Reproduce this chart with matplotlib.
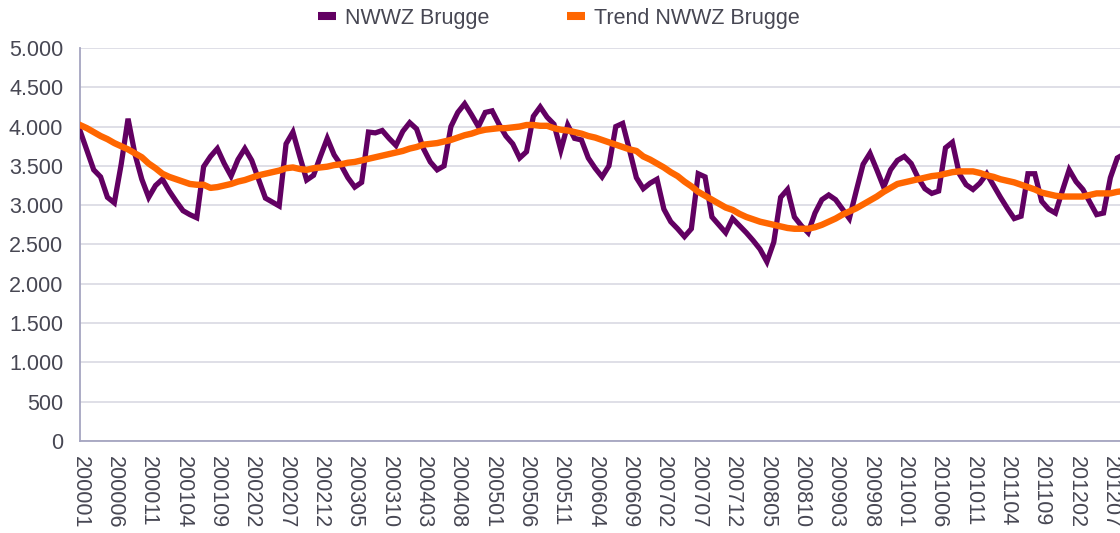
import matplotlib.pyplot as plt
from matplotlib.ticker import FuncFormatter

# monthly categories 200001 .. 201209
months = ["%d%02d" % (2000 + i // 12, i % 12 + 1) for i in range(153)]

nwwz = [
    3950, 3700, 3450, 3360, 3100, 3030, 3520, 4100, 3650, 3330,
    3100, 3250, 3330, 3180, 3050, 2930, 2880, 2840, 3490, 3620,
    3720, 3530, 3370, 3580, 3720, 3570, 3330, 3090, 3040, 2990,
    3780, 3930, 3620, 3320, 3380, 3620, 3850, 3640, 3510, 3350,
    3230, 3290, 3930, 3920, 3950, 3850, 3760, 3940, 4050, 3970,
    3720, 3550, 3450, 3500, 4000, 4180, 4290, 4150, 4000, 4180,
    4200, 4030, 3880, 3780, 3600, 3680, 4130, 4250, 4120, 4030,
    3700, 4020, 3850, 3830, 3600, 3470, 3360, 3500, 4000, 4040,
    3700, 3350, 3210, 3280, 3330, 2950, 2790, 2700, 2600, 2700,
    3400, 3360, 2850, 2750, 2650, 2830, 2740, 2650, 2550, 2440,
    2280, 2530, 3100, 3200, 2850, 2740, 2650, 2900, 3070, 3130,
    3070, 2950, 2830, 3180, 3520, 3660, 3450, 3230, 3450, 3570,
    3620, 3530, 3350, 3210, 3150, 3180, 3730, 3800, 3400, 3260,
    3200, 3280, 3400, 3250, 3100, 2960, 2830, 2860, 3400, 3400,
    3050, 2950, 2900, 3180, 3450, 3300, 3200, 3040, 2880, 2900,
    3350, 3600, 3650,
]

trend = [
    4020, 3980, 3930, 3880, 3840, 3790, 3750, 3710, 3660, 3610,
    3530, 3470, 3400, 3360, 3330, 3300, 3270, 3260, 3260, 3220,
    3230, 3250, 3270, 3300, 3320, 3350, 3380, 3400, 3420, 3440,
    3470, 3480, 3460, 3450, 3470, 3480, 3490, 3510, 3520, 3540,
    3550, 3570, 3590, 3610, 3630, 3650, 3670, 3690, 3720, 3740,
    3770, 3780, 3790, 3810, 3830, 3860, 3890, 3910, 3940, 3960,
    3970, 3980, 3980, 3990, 4000, 4020, 4020, 4010, 4010, 3980,
    3960, 3950, 3930, 3910, 3880, 3860, 3830, 3800, 3770, 3740,
    3710, 3690, 3620, 3580, 3530, 3480, 3420, 3370, 3300, 3240,
    3170, 3120, 3070, 3020, 2970, 2940, 2890, 2850, 2820, 2790,
    2770, 2750, 2730, 2710, 2700, 2700, 2700, 2720, 2750, 2790,
    2830, 2880, 2920, 2960, 3010, 3060, 3110, 3170, 3220, 3270,
    3290, 3310, 3330, 3350, 3370, 3380, 3400, 3420, 3430, 3430,
    3430, 3410, 3380, 3360, 3330, 3310, 3290, 3260, 3230, 3200,
    3160, 3140, 3120, 3110, 3110, 3110, 3110, 3130, 3150, 3150,
    3150, 3170, 3180,
]

plt.rcParams['font.family'] = ['Liberation Sans', 'DejaVu Sans']
txt_col = '#474753'
fs = 15.5

fig = plt.figure(figsize=(11.2, 5.33), dpi=100)
ax = fig.add_axes([0.0714, 0.1726, 0.9286, 0.7374])

x = list(range(len(months)))
ax.plot(x, nwwz, color='#620062', lw=3.8, label='NWWZ Brugge', solid_joinstyle='miter', zorder=3)
ax.plot(x, trend, color='#FF6600', lw=4.6, label='Trend NWWZ Brugge', zorder=4)

ax.set_xlim(0, 151.4)
ax.set_ylim(0, 5000)
ax.set_yticks(range(0, 5001, 500))
ax.yaxis.set_major_formatter(FuncFormatter(lambda v, p: "{:,.0f}".format(v).replace(",", ".")))
ax.set_xticks(x[::5])
ax.set_xticklabels(months[::5], rotation=270, ha='center', va='top')

ax.grid(axis='y', color='#D9D9E3', lw=1.2)
ax.set_axisbelow(True)
for s in ['top', 'right']:
    ax.spines[s].set_visible(False)
for s in ['left', 'bottom']:
    ax.spines[s].set_color('#A5A5C0')
    ax.spines[s].set_linewidth(1.3)
ax.tick_params(length=0, labelsize=fs, colors=txt_col)
ax.tick_params(axis='x', pad=11)
ax.tick_params(axis='y', pad=12)

leg = fig.legend(loc='center', bbox_to_anchor=(0.499, 0.966), ncol=2, frameon=False,
                 fontsize=fs, handlelength=0.84, handletextpad=0.4, columnspacing=3.6)
for t in leg.get_texts():
    t.set_color(txt_col)
for h in leg.legend_handles:
    h.set_linewidth(5.8)
    h.set_solid_capstyle('butt')

plt.savefig('out.png', dpi=100)
